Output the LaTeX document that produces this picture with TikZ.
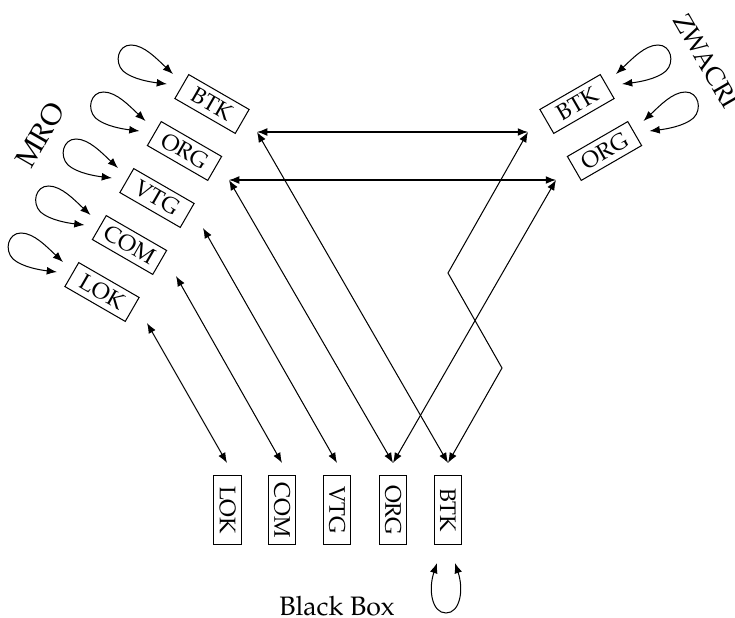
\documentclass[tikz,border=0pt]{standalone}
\usepackage[T1]{fontenc}
\usepackage{mathpazo}
\usetikzlibrary{arrows.meta}
\begin{document}
\begin{tikzpicture}[x=0.4878pt,y=-0.4878pt,
  box/.style={draw,line width=0.5pt,minimum width=34pt,minimum height=13.5pt,inner sep=1pt,font=\fontsize{11}{13}\selectfont},
  link/.style={{Latex[length=5pt,width=3.8pt]}-{Latex[length=5pt,width=3.8pt]},line width=0.5pt},
  grouplbl/.style={inner sep=0pt}]
\useasboundingbox (0,0) rectangle (735,618);

% left group (MRO)
\node[box,rotate=-30] (lB) at (212,104) {BTK};
\node[box,rotate=-30] (lO) at (184.5,151) {ORG};
\node[box,rotate=-30] (lV) at (157,198) {VTG};
\node[box,rotate=-30] (lC) at (129.5,245) {COM};
\node[box,rotate=-30] (lL) at (102,292) {LOK};
\node[grouplbl,font=\fontsize{14}{17}\selectfont,rotate=60] (mro) at (40,135) {MRO};

% right group (ZWACRI)
\node[box,rotate=30] (rBx) at (577,104) {BTK};
\node[box,rotate=30] (rOx) at (604.5,151) {ORG};
\node[grouplbl,font=\fontsize{12.5}{15}\selectfont,rotate=-60] (zw) at (706,61) {ZWACRI};

% bottom group (Black Box)
\node[box,rotate=-90] (bLx) at (227.5,510) {LOK};
\node[box,rotate=-90] (bCx) at (282,510) {COM};
\node[box,rotate=-90] (bVx) at (337,510) {VTG};
\node[box,rotate=-90] (bOx) at (393,510) {ORG};
\node[box,rotate=-90] (bBx) at (448,510) {BTK};
\node[font=\fontsize{13}{15}\selectfont,inner sep=0pt] (bb) at (337,606) {Black Box};

% connector ends
\coordinate (aB) at (257,132);
\coordinate (aO) at (229,180);
\coordinate (aV) at (203,228);
\coordinate (aC) at (176,276);
\coordinate (aL) at (147,323);
\coordinate (rB) at (528,132);
\coordinate (rO) at (556,180);
\coordinate (k1) at (448,273);
\coordinate (k2) at (502,368);
\coordinate (bL) at (227,463);
\coordinate (bC) at (282,463);
\coordinate (bV) at (337,463);
\coordinate (bO) at (393,463);
\coordinate (bB) at (448,463);

\draw[link] (aL) -- (bL);
\draw[link] (aC) -- (bC);
\draw[link] (aV) -- (bV);
\draw[link] (aO) -- (bO);
\draw[link] (aB) -- (bB);
\draw[link] (aB) -- (rB);
\draw[link] (aO) -- (rO);
\draw[link] (rO) -- (bO);
\draw[link] (rB) -- (k1) -- (k2) -- (bB);

% self loops
\foreach \n in {lB,lO,lV,lC,lL}{
  \draw[link,shift={(\n.center)}] (-39,-30) .. controls (-55,-45) and (-68,-59) .. (-81,-59)
     .. controls (-94,-59) and (-98,-42) .. (-89,-33)
     .. controls (-80,-25) and (-62,-22) .. (-45,-20);
}
\foreach \n in {rBx,rOx}{
  \draw[link,shift={(\n.center)}] (39,-30) .. controls (55,-45) and (68,-59) .. (81,-59)
     .. controls (94,-59) and (98,-42) .. (89,-33)
     .. controls (80,-25) and (62,-22) .. (45,-20);
}
\draw[link] (437,563) .. controls (428,590) and (432,613) .. (446,613)
   .. controls (460,613) and (464,590) .. (455,563);
\end{tikzpicture}
\end{document}
